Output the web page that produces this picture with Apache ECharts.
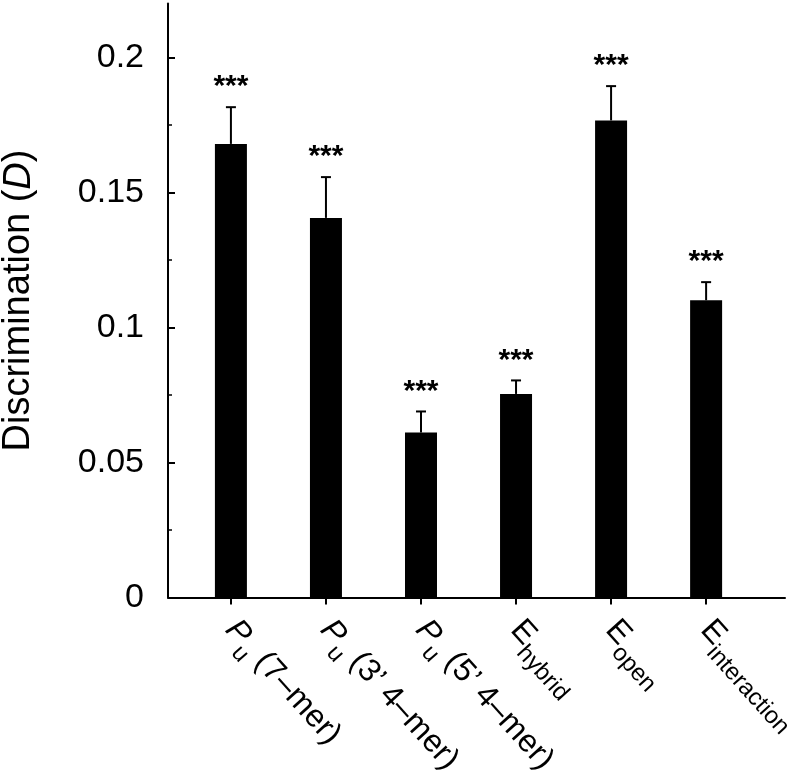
<!DOCTYPE html>
<html>
<head>
<meta charset="utf-8">
<script src="https://cdn.jsdelivr.net/npm/echarts@6/dist/echarts.min.js"></script>
<style>
html,body{margin:0;padding:0;background:#fff;}
#chart{width:797px;height:770px;}
</style>
</head>
<body>
<div id="chart"></div>
<script>
// ---- data ----
const positions = [1, 2, 3, 4, 5, 6];
const labelMain = ['P', 'P', 'P', 'E', 'E', 'E'];
const labelSub = ['u', 'u', 'u', 'hybrid', 'open', 'interaction'];
const labelRest = [' (7\u2013mer)', ' (3\u2019 4\u2013mer)', ' (5\u2019 4\u2013mer)', '', '', ''];
const mainItalic = [true, true, true, false, false, false];
const values = [0.168, 0.1406, 0.0611, 0.0754, 0.1767, 0.1101];
const errors = [0.0136, 0.0151, 0.0078, 0.0050, 0.0127, 0.0067];
const signif = ['***', '***', '***', '***', '***', '***'];
const yMajorTicks = [0, 0.05, 0.1, 0.15, 0.2];
const yMinorTicks = [0.025, 0.075, 0.125, 0.175];

const FONT = 'Liberation Sans, Arial, Helvetica, sans-serif';
const chart = echarts.init(document.getElementById('chart'), null, {renderer: 'canvas'});

const barData = positions.map((x, i) => [x, values[i]]);
const errData = positions.map((x, i) => [x, values[i], values[i] + errors[i]]);
const starData = positions.map((x, i) => [x, values[i] + errors[i], i]);

const option = {
  animation: false,
  backgroundColor: '#fff',
  grid: {left: 168, right: 12, top: 3.5, bottom: 172.5, containLabel: false, outerBoundsMode: 'none'},
  xAxis: {
    type: 'value',
    min: 0.338,
    max: 6.83,
    splitLine: {show: false},
    axisLine: {show: true, onZero: false, lineStyle: {color: '#000', width: 2}},
    axisTick: {show: true, customValues: positions, length: 7, inside: false, lineStyle: {color: '#000', width: 2}},
    axisLabel: {
      show: true,
      customValues: positions,
      rotate: -48,
      margin: 27,
      fontFamily: FONT,
      color: '#000',
      formatter: function (v) {
        const i = positions.indexOf(Math.round(v));
        if (i < 0) return '';
        let s = '{' + (mainItalic[i] ? 'mi' : 'm') + '|' + labelMain[i] + '}{s|' + labelSub[i] + '}';
        if (labelRest[i]) s += '{m|' + labelRest[i] + '}';
        return s;
      },
      rich: {
        m: {fontSize: 32, fontFamily: FONT, color: '#000'},
        mi: {fontSize: 32, fontFamily: FONT, fontStyle: 'italic', color: '#000'},
        s: {fontSize: 24, fontFamily: FONT, color: '#000', padding: [26, 0, 0, 0]}
      }
    }
  },
  yAxis: [{
    type: 'value',
    min: 0,
    max: 0.22,
    position: 'left',
    splitLine: {show: false},
    axisLine: {show: true, onZero: false, lineStyle: {color: '#000', width: 2}},
    axisTick: {show: true, customValues: yMajorTicks, inside: true, length: 7, lineStyle: {color: '#000', width: 2}},
    axisLabel: {show: true, customValues: yMajorTicks, margin: 24, fontSize: 34, fontFamily: FONT, color: '#000'},
    name: '{n|Discrimination (}{i|D}{n|)}',
    nameLocation: 'middle',
    nameGap: 130,
    nameTextStyle: {
      fontSize: 38, fontFamily: FONT, color: '#000',
      rich: {
        n: {fontSize: 38, fontFamily: FONT, color: '#000'},
        i: {fontSize: 38, fontFamily: FONT, fontStyle: 'italic', color: '#000'}
      }
    }
  }, {
    type: 'value',
    min: 0,
    max: 0.22,
    position: 'left',
    splitLine: {show: false},
    axisLine: {show: false},
    axisLabel: {show: false},
    axisTick: {show: true, customValues: yMinorTicks, inside: true, length: 4, lineStyle: {color: '#000', width: 1.5}}
  }],
  series: [{
    type: 'bar',
    data: barData,
    barWidth: 32,
    itemStyle: {color: '#000'},
    silent: true
  }, {
    type: 'custom',
    data: errData,
    silent: true,
    z: 3,
    renderItem: function (params, api) {
      const x = api.value(0);
      const base = api.coord([x, api.value(1)]);
      const top = api.coord([x, api.value(2)]);
      return {
        type: 'group',
        children: [{
          type: 'line',
          shape: {x1: base[0], y1: base[1], x2: top[0], y2: top[1]},
          style: {stroke: '#000', lineWidth: 2}
        }, {
          type: 'line',
          shape: {x1: top[0] - 5, y1: top[1], x2: top[0] + 5, y2: top[1]},
          style: {stroke: '#000', lineWidth: 2}
        }]
      };
    }
  }, {
    type: 'custom',
    data: starData,
    silent: true,
    z: 3,
    renderItem: function (params, api) {
      const x = api.value(0);
      const p = api.coord([x, api.value(1)]);
      return {
        type: 'text',
        style: {
          text: signif[api.value(2)],
          x: p[0],
          y: p[1] - 20,
          fill: '#000',
          font: 'bold 30px ' + FONT,
          textAlign: 'center',
          textVerticalAlign: 'middle'
        }
      };
    }
  }]
};
chart.setOption(option);
</script>
</body>
</html>
